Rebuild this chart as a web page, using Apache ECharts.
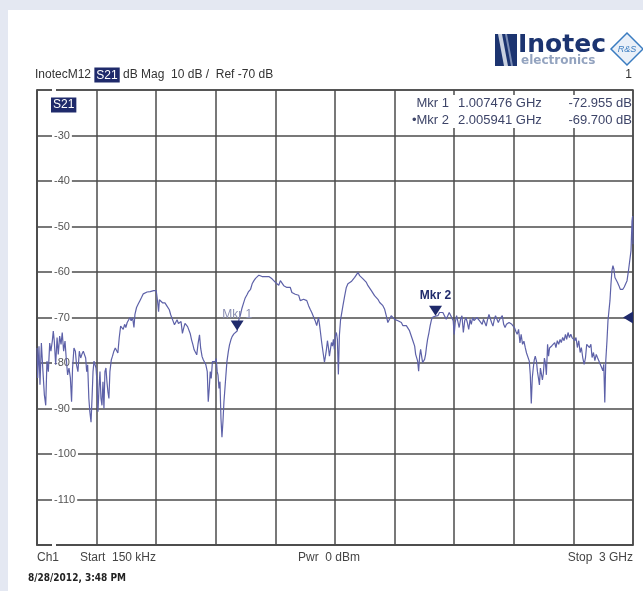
<!DOCTYPE html>
<html>
<head>
<meta charset="utf-8">
<script src="https://cdn.jsdelivr.net/npm/echarts@6/dist/echarts.min.js"></script>
<style>
  html, body { margin: 0; padding: 0; background: #e4e8f2; }
  #chart { width: 643px; height: 591px; }
</style>
</head>
<body>
<div id="chart"></div>
<script>
// S21 sweep, 150 kHz .. 3 GHz (frequency in MHz, level in dB)
const freqMHz = [
  0.15, 3.4, 10, 15, 22, 30, 37, 44, 50, 57, 64, 70, 77, 82, 87, 94, 101, 107, 114, 121,
  127, 134, 141, 147, 154, 161, 168, 174, 179, 186, 193, 199, 206, 213, 220, 226, 233, 240, 245, 250,
  255, 261, 266, 272, 277, 282, 287, 292, 297, 302, 307, 312, 317, 322, 327, 332, 337, 342, 347, 352,
  357, 362, 367, 374, 380, 387, 394, 401, 407, 414, 421, 427, 434, 441, 447, 454, 461, 468, 474, 481,
  488, 493, 501, 510, 518, 526, 535, 554, 570, 587, 600, 607, 612, 616, 623, 633, 644, 656, 666,
  673, 679, 686, 692, 699, 705, 712, 719, 725, 732, 738, 745, 752, 758, 765, 771, 778, 785, 791, 798,
  804, 811, 818, 824, 831, 837, 844, 850, 857, 862, 867, 872, 877, 883, 890, 897, 902, 907, 911, 916,
  921, 926, 931, 936, 941, 946, 951, 956, 963, 969, 976, 982, 991, 999, 1007.476, 1016, 1024, 1032, 1040,
  1048, 1057, 1065, 1075, 1083, 1092, 1100, 1108, 1117, 1125, 1133, 1142, 1150, 1158, 1167, 1175, 1183,
  1192, 1200, 1208, 1217, 1225, 1233, 1242, 1250, 1258, 1267, 1275, 1283, 1292, 1300, 1308, 1317, 1325,
  1333, 1342, 1350, 1358, 1367, 1375, 1383, 1392, 1400, 1408, 1417, 1422, 1427, 1433, 1440, 1447, 1452,
  1457, 1462, 1467, 1472, 1477, 1482, 1487, 1492, 1497, 1502, 1507, 1512, 1517, 1522, 1528, 1540, 1549,
  1557, 1565, 1574, 1582, 1590, 1599, 1607, 1616, 1624, 1632, 1641, 1649, 1658, 1666, 1674, 1683, 1691,
  1699, 1708, 1716, 1725, 1733, 1741, 1750, 1758, 1766, 1775, 1783, 1792, 1800, 1808, 1817, 1825, 1834,
  1842, 1850, 1859, 1867, 1875, 1884, 1892, 1901, 1906, 1911, 1916, 1921, 1926, 1931, 1936, 1941, 1946,
  1951, 1956, 1961, 1966, 1973, 1979, 1986, 1993, 2005.941, 2010, 2018, 2026, 2035, 2043, 2051, 2060,
  2066, 2075, 2083, 2088, 2095, 2100, 2105, 2112, 2119, 2125, 2132, 2139, 2146, 2153, 2159, 2166, 2173,
  2180, 2186, 2193, 2200, 2207, 2214, 2220, 2227, 2234, 2241, 2247, 2254, 2261, 2268, 2275, 2281, 2288,
  2295, 2302, 2308, 2315, 2322, 2329, 2336, 2342, 2349, 2356, 2363, 2369, 2376, 2383, 2390, 2397, 2403,
  2410, 2417, 2424, 2431, 2437, 2444, 2451, 2458, 2464, 2471, 2478, 2483, 2488, 2493, 2498, 2503, 2508,
  2514, 2519, 2524, 2529, 2534, 2539, 2544, 2549, 2554, 2559, 2564, 2570, 2575, 2580, 2587, 2592, 2599,
  2606, 2612, 2619, 2626, 2633, 2639, 2646, 2653, 2660, 2666, 2673, 2680, 2687, 2693, 2700, 2707, 2713,
  2720, 2727, 2734, 2740, 2747, 2754, 2761, 2767, 2774, 2781, 2788, 2794, 2801, 2808, 2815, 2821, 2828,
  2835, 2842, 2848, 2853, 2858, 2863, 2869, 2874, 2879, 2884, 2889, 2894, 2899, 2904, 2909, 2916, 2922,
  2929, 2936, 2943, 2949, 2956, 2963, 2970, 2976, 2983, 2990, 2995, 2998, 3000
];
const levelDb = [
  -76.7, -83.3, -76.3, -84.8, -75.6, -81.9, -87.0, -89.3, -79.6, -81.9, -75.6, -77.4, -75.2, -73.0, -75.2, -80.4, -74.4, -78.1, -74.1, -75.9,
  -73.3, -77.4, -75.2, -78.9, -82.6, -81.1, -83.3, -88.5, -81.1, -76.7, -77.4, -80.4, -81.9, -77.4, -78.9, -78.1, -77.4, -77.0, -78.9, -81.9,
  -80.4, -87.8, -90.7, -93.0, -87.8, -81.9, -79.6, -79.6, -81.1, -84.1, -90.7, -85.6, -81.9, -87.8, -89.3, -84.1, -90.0, -81.9, -81.1, -84.1,
  -86.3, -87.8, -81.9, -79.3, -78.5, -77.4, -76.7, -77.0, -77.8, -74.4, -71.9, -71.5, -72.6, -71.5, -72.2, -71.1, -70.7, -70.0, -70.7, -70.0,
  -72.2, -69.3, -67.8, -67.0, -66.3, -65.6, -64.8, -64.4, -64.3, -64.1, -64.1, -66.5, -68.7, -66.1, -66.5, -66.8, -66.8, -67.6, -68.3,
  -69.4, -69.0, -70.9, -71.6, -71.3, -70.5, -71.3, -71.6, -70.9, -73.5, -72.4, -71.3, -71.6, -72.0, -72.4, -73.5, -74.9, -76.0, -77.1, -77.5,
  -78.2, -75.7, -73.8, -76.8, -78.6, -79.3, -79.0, -80.4, -81.9, -88.5, -85.6, -81.9, -83.4, -79.7, -80.1, -79.7, -79.0, -81.9, -82.6, -85.6,
  -84.1, -92.2, -96.3, -92.9, -88.5, -85.6, -82.6, -79.7, -77.5, -76.0, -74.9, -74.2, -73.6, -73.2, -72.955, -70.5, -69.4, -67.9, -66.8,
  -65.7, -65.0, -64.3, -63.8, -62.6, -61.9, -61.4, -61.0, -60.7, -60.8, -61.0, -60.8, -61.0, -60.8, -61.0, -61.2, -61.5,
  -61.7, -62.3, -62.6, -62.9, -61.9, -61.9, -63.0, -62.6, -63.4, -63.8, -63.4, -64.5, -64.3, -64.9, -64.5, -65.1, -66.3,
  -66.7, -66.0, -65.6, -66.3, -67.4, -68.2, -68.9, -69.3, -70.7, -71.8, -70.0, -71.5, -73.3, -75.5, -77.7, -79.8, -78.5,
  -77.0, -75.1, -76.6, -78.5, -77.0, -75.5, -76.3, -74.8, -77.0, -74.0, -73.3, -74.8, -82.5, -74.0, -70.5, -67.4, -65.2,
  -63.4, -62.6, -62.3, -62.1, -61.9, -61.2, -60.8, -60.1, -60.8, -61.0, -61.5, -61.9, -62.3, -63.0, -63.4, -64.1, -64.5,
  -65.2, -64.9, -66.0, -66.7, -66.3, -67.4, -68.2, -69.6, -71.1, -70.7, -69.6, -70.0, -70.4, -70.0, -70.7, -70.4, -71.1,
  -71.8, -71.5, -71.8, -72.2, -72.9, -73.3, -75.1, -76.3, -78.1, -77.7, -79.6, -81.8, -78.5, -77.0, -78.5, -79.9, -80.3,
  -79.2, -78.1, -76.3, -74.8, -73.3, -71.8, -70.4, -69.9, -69.7, -69.3, -69.6, -68.9, -69.3, -68.9, -69.6, -70.4,
  -70.4, -68.9, -69.6, -69.3, -70.7, -73.7, -71.1, -69.6, -70.0, -72.2, -70.4, -69.6, -73.3, -70.7, -70.0, -71.1, -72.6,
  -70.4, -71.5, -70.0, -70.7, -71.1, -70.0, -70.4, -70.7, -70.4, -71.5, -70.4, -71.1, -71.9, -70.4, -69.3, -69.6, -71.1,
  -71.9, -70.4, -69.6, -70.0, -71.1, -70.4, -70.0, -69.6, -71.5, -72.2, -71.5, -71.9, -71.1, -70.7, -71.5, -71.1, -72.2,
  -73.0, -73.7, -72.6, -75.6, -73.7, -75.9, -75.2, -76.7, -77.8, -78.1, -79.6, -82.6, -88.9, -83.3, -81.1, -79.3, -78.5,
  -79.6, -81.9, -83.3, -84.8, -81.1, -81.5, -83.7, -82.2, -78.9, -80.0, -82.6, -75.9, -78.5, -76.7, -77.0, -76.2, -76.6,
  -75.5, -76.6, -75.1, -75.9, -74.8, -75.5, -74.4, -75.1, -73.7, -74.8, -73.3, -74.4, -73.7, -74.4, -74.0, -75.1, -74.4,
  -76.6, -75.1, -77.7, -76.6, -78.8, -80.3, -78.8, -75.9, -75.5, -76.6, -75.9, -78.8, -77.7, -79.5, -78.1, -78.8, -79.5,
  -80.3, -81.0, -81.7, -80.3, -88.7, -79.5, -75.1, -70.7, -68.5, -66.3, -62.7, -59.7, -58.6, -59.4, -61.2, -61.6, -62.3,
  -63.0, -63.8, -63.4, -63.8, -63.3, -63.0, -61.9, -60.1, -59.7, -55.3, -48.8, -47.7, -53.9
];

// Markers (frequency in MHz, level in dB)
const markerNames = ['Mkr 1', 'Mkr 2'];
const markerFreqMHz = [1007.476, 2005.941];
const markerDb = [-72.955, -69.700];
const markerFreqText = ['1.007476 GHz', '2.005941 GHz'];
const markerDbText = ['-72.955 dB', '-69.700 dB'];
const refLevelDb = -70;

// Axis scale
const xMinMHz = 0, xMaxMHz = 3000, xStepMHz = 300;
const yMinDb = -120, yMaxDb = -20, yStepDb = 10;

const NAVY = '#1f2a6b';
const GRID = '#4b4b4b';
const TRACE = '#5d61a8';
const FONT = '"Liberation Sans", Arial, sans-serif';

const chart = echarts.init(document.getElementById('chart'), null, { renderer: 'canvas' });

const traceData = freqMHz.map((f, i) => [f, levelDb[i]]);

const markPoints = [
  {
    coord: [markerFreqMHz[0], markerDb[0]],
    label: { show: true, position: 'top', distance: 0, formatter: markerNames[0],
             color: '#8a8eb3', fontSize: 12, fontFamily: FONT }
  },
  {
    coord: [markerFreqMHz[1], markerDb[1]],
    label: { show: true, position: 'top', distance: 4, formatter: markerNames[1],
             color: NAVY, fontSize: 12, fontWeight: 'bold', fontFamily: FONT }
  },
  {
    coord: [xMaxMHz, refLevelDb],
    symbolRotate: 90,
    symbolSize: [12, 10],
    symbolOffset: [-5, 0],
    label: { show: false }
  }
];

const txt = (x, y, text, opts) => ({
  type: 'text', x, y, silent: true, z: 10,
  style: Object.assign({
    text, fill: '#333', fontSize: 12, fontFamily: FONT,
    align: 'left', textAlign: 'left', verticalAlign: 'middle', textVerticalAlign: 'middle'
  }, opts || {})
});

const READ = '#3d4468';

const graphics = [
  // white panel
  { type: 'rect', silent: true, z: -10, shape: { x: 8, y: 10, width: 640, height: 590 }, style: { fill: '#ffffff' } },

  // logo: striped block
  { type: 'rect', silent: true, z: 10, shape: { x: 495, y: 34, width: 22, height: 32 }, style: { fill: '#1c3470' } },
  { type: 'polygon', silent: true, z: 11, shape: { points: [[498, 34], [502, 34], [508, 66], [504, 66]] }, style: { fill: '#c9d1e0' } },
  { type: 'polygon', silent: true, z: 11, shape: { points: [[505, 34], [507, 34], [513, 66], [511, 66]] }, style: { fill: '#7b8db5' } },
  txt(518, 45, 'Inotec', { fontSize: 25, fontWeight: 'bold', fill: '#1c3470', fontFamily: '"DejaVu Sans", sans-serif' }),
  txt(521, 61, 'electronics', { fontSize: 12, fontWeight: 'bold', fill: '#93a3bf', fontFamily: '"DejaVu Sans", sans-serif' }),
  // logo: diamond badge
  { type: 'polygon', silent: true, z: 10, shape: { points: [[627, 33], [643, 49], [627, 65], [611, 49]] },
    style: { fill: '#eaf0f8', stroke: '#3a7cc0', lineWidth: 1.5 } },
  txt(627, 49, 'R&S', { fontSize: 9, fontStyle: 'italic', fill: '#3a7cc0', align: 'center', textAlign: 'center' }),

  // header line
  {
    type: 'text', x: 35, y: 75, silent: true, z: 10,
    style: {
      text: 'InotecM12 {s|S21} dB Mag  10 dB /  Ref -70 dB',
      fill: '#333', fontSize: 12, fontFamily: FONT, verticalAlign: 'middle', textVerticalAlign: 'middle',
      rich: { s: { backgroundColor: NAVY, fill: '#ffffff', color: '#ffffff', fontSize: 12, fontFamily: FONT, padding: [2, 2, 1, 2] } }
    }
  },
  txt(632, 75, '1', { align: 'right', textAlign: 'right' }),

  // trace label inside the plot
  {
    type: 'text', x: 51, y: 105, silent: true, z: 10,
    style: { text: 'S21', fill: '#fff', fontSize: 12, fontFamily: FONT, backgroundColor: NAVY,
             padding: [2, 2, 1, 2], verticalAlign: 'middle', textVerticalAlign: 'middle' }
  },

  // marker readout
  { type: 'rect', silent: true, z: 9, shape: { x: 404, y: 95, width: 228, height: 33 }, style: { fill: '#ffffff' } },
  txt(449, 103, markerNames[0], { align: 'right', textAlign: 'right', fill: READ, fontSize: 13 }),
  txt(449, 120, '\u2022' + markerNames[1], { align: 'right', textAlign: 'right', fill: READ, fontSize: 13 }),
  txt(458, 103, markerFreqText[0], { fill: READ, fontSize: 13 }),
  txt(458, 120, markerFreqText[1], { fill: READ, fontSize: 13 }),
  txt(632, 103, markerDbText[0], { align: 'right', textAlign: 'right', fill: READ, fontSize: 13 }),
  txt(632, 120, markerDbText[1], { align: 'right', textAlign: 'right', fill: READ, fontSize: 13 }),

  // footer
  txt(37, 558, 'Ch1', { fill: '#444' }),
  txt(80, 558, 'Start  150 kHz', { fill: '#444' }),
  txt(298, 558, 'Pwr  0 dBm', { fill: '#444' }),
  txt(633, 558, 'Stop  3 GHz', { fill: '#444', align: 'right', textAlign: 'right' }),
  txt(28, 578, '8/28/2012, 3:48 PM', { fill: '#222', fontSize: 10, fontWeight: 'bold',
    fontFamily: '"DejaVu Sans Condensed", "DejaVu Sans", sans-serif' })
];

chart.setOption({
  animation: false,
  backgroundColor: '#e4e8f2',
  grid: {
    left: 37, top: 90, width: 596, height: 455,
    show: true, borderColor: GRID, borderWidth: 1.5, backgroundColor: 'transparent'
  },
  xAxis: {
    type: 'value', min: xMinMHz, max: xMaxMHz, interval: xStepMHz,
    axisLine: { show: true, lineStyle: { color: GRID, width: 1.5 } },
    axisTick: { show: false },
    axisLabel: { show: false },
    splitLine: { show: true, lineStyle: { color: GRID, width: 1.5 } }
  },
  yAxis: {
    type: 'value', min: yMinDb, max: yMaxDb, interval: yStepDb,
    axisLine: { show: true, lineStyle: { color: GRID, width: 1.5 } },
    axisTick: { show: false },
    axisLabel: {
      inside: true, margin: 15, color: '#555', fontSize: 11, fontFamily: FONT,
      backgroundColor: '#ffffff', padding: [1, 2],
      formatter: v => (v === yMinDb || v === yMaxDb) ? '' : String(v)
    },
    splitLine: { show: true, lineStyle: { color: GRID, width: 1.5 } }
  },
  series: [{
    type: 'line',
    data: traceData,
    symbol: 'none',
    showSymbol: false,
    z: 3,
    lineStyle: { color: TRACE, width: 1.2 },
    markPoint: {
      symbol: 'triangle',
      symbolRotate: 180,
      symbolSize: [13, 10],
      symbolOffset: [0, -5.5],
      itemStyle: { color: NAVY },
      data: markPoints
    }
  }],
  graphic: graphics
});
</script>
</body>
</html>
